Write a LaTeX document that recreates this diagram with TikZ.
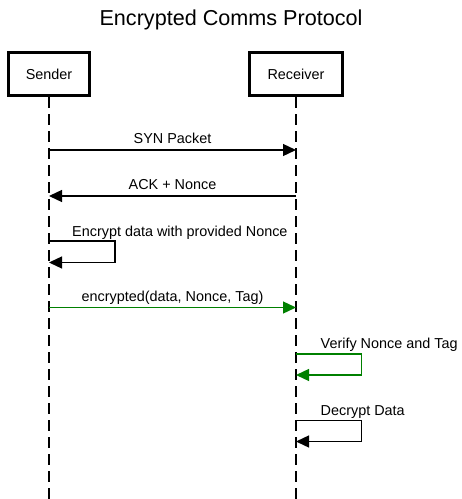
\documentclass[tikz,border=0pt]{standalone}
\usepackage{fontspec}
\setmainfont{Liberation Sans}
\usetikzlibrary{arrows.meta}
\definecolor{msggreen}{RGB}{0,128,0}
\tikzset{
  actor/.style={draw, line width=3pt, minimum height=43pt, inner sep=0pt, font=\fontsize{14.4}{17}\selectfont},
  lifeline/.style={line width=1.3pt, dash pattern=on 11pt off 6pt},
  msg/.style={line width=1.3pt, -{Triangle[length=13pt,width=12pt]}},
  lbl/.style={anchor=base, inner sep=0pt, font=\fontsize{14.4}{17}\selectfont},
  lbll/.style={anchor=base west, inner sep=0pt, font=\fontsize{14.4}{17}\selectfont}
}
\begin{document}
\begin{tikzpicture}[x=1pt,y=-1pt]
\useasboundingbox (0,0) rectangle (462,499);
\node[inner sep=0pt, anchor=base, font=\fontsize{21.6}{25}\selectfont] (title) at (231,25) {Encrypted Comms Protocol};
\node[actor, minimum width=81pt] (sender) at (49,74) {Sender};
\node[actor, minimum width=93pt] (receiver) at (296,74) {Receiver};
\coordinate (sendend) at (49,499);
\coordinate (recvend) at (296,499);
\draw[lifeline] (sender.south) -- (sendend);
\draw[lifeline] (receiver.south) -- (recvend);
% 1
\coordinate (s1) at (49,150); \coordinate (r1) at (296,150);
\draw[msg] (s1) -- (r1);
\node[lbl] (l1) at (172.5,143) {SYN Packet};
% 2
\coordinate (s2) at (49,196); \coordinate (r2) at (296,196);
\draw[msg] (r2) -- (s2);
\node[lbl] (l2) at (172.5,189) {ACK + Nonce};
% 3
\coordinate (s3a) at (49,241); \coordinate (s3b) at (49,262.5);
\draw[msg] (s3a) -- (115,241) -- (115,262.5) -- (s3b);
\node[lbll] (l3) at (72,236) {Encrypt data with provided Nonce};
% 4
\coordinate (s4) at (49,307.5); \coordinate (r4) at (296,307.5);
\draw[msg, msggreen] (s4) -- (r4);
\node[lbl] (l4) at (172.5,301) {encrypted(data, Nonce, Tag)};
% 5
\coordinate (r5a) at (296,354); \coordinate (r5b) at (296,375);
\draw[msg, msggreen] (r5a) -- (361.5,354) -- (361.5,375) -- (r5b);
\node[lbll] (l5) at (320.5,348) {Verify Nonce and Tag};
% 6
\coordinate (r6a) at (296,420.5); \coordinate (r6b) at (296,441.5);
\draw[msg] (r6a) -- (361.5,420.5) -- (361.5,441.5) -- (r6b);
\node[lbll] (l6) at (320.5,415) {Decrypt Data};
\end{tikzpicture}
\end{document}
